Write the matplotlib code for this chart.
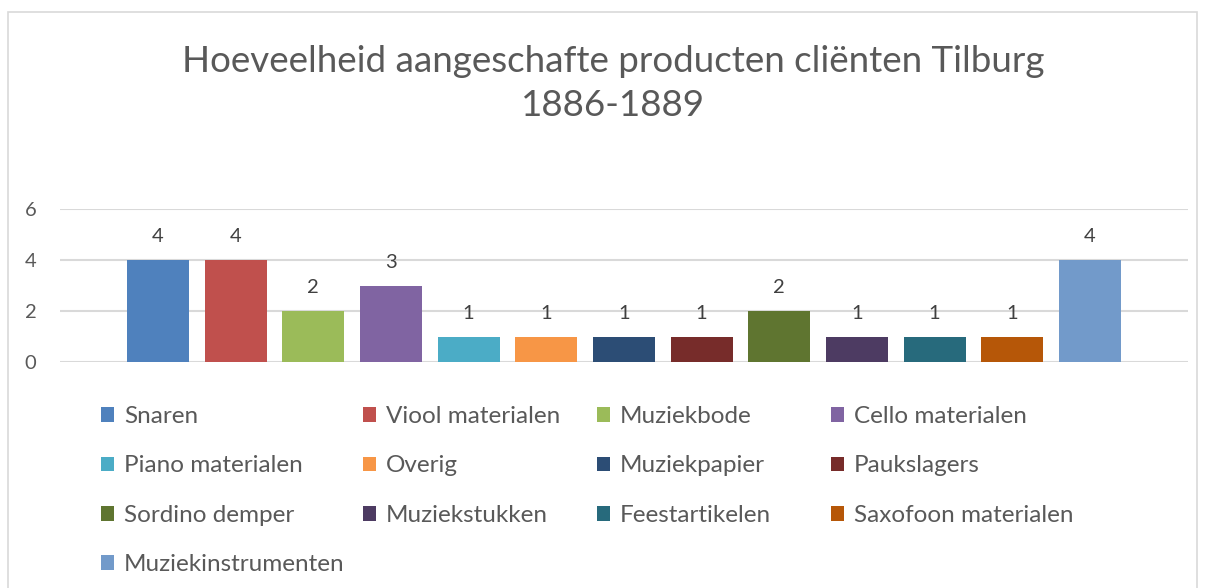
import matplotlib.pyplot as plt
from matplotlib.patches import Patch, Rectangle

categories = ["Snaren", "Viool materialen", "Muziekbode", "Cello materialen",
              "Piano materialen", "Overig", "Muziekpapier", "Paukslagers",
              "Sordino demper", "Muziekstukken", "Feestartikelen",
              "Saxofoon materialen", "Muziekinstrumenten"]
values = [4, 4, 2, 3, 1, 1, 1, 1, 2, 1, 1, 1, 4]
colors = ["#4F81BD", "#C0504D", "#9BBB59", "#8064A2", "#4BACC6", "#F79646",
          "#2C4D75", "#772C2A", "#5F7530", "#4D3B62", "#276A7C", "#B65708",
          "#729ACA"]
yticks = [0, 2, 4, 6]

plt.rcParams['font.family'] = ['Lato', 'DejaVu Sans']

W, H = 1205, 588
fig = plt.figure(figsize=(W / 100, H / 100), dpi=100)

# chart frame
fig.patches.append(Rectangle((8 / W, -0.05), 1189 / W, 1.05 - 12 / H,
                             transform=fig.transFigure, fill=False,
                             edgecolor="#d9d9d9", linewidth=1.2))

ax = fig.add_axes([60 / W, 1 - 362 / H, 1128 / W, 153 / H])
x = list(range(len(values)))
bars = ax.bar(x, values, width=0.8, color=colors, zorder=3)
for xi, v in zip(x, values):
    ax.text(xi, v + 0.58, str(v), ha="center", va="bottom",
            fontsize=14.5, color="#404040")

ax.set_xlim(-1.262, len(values) - 1 + 1.262)
ax.set_ylim(0, 6)
ax.set_yticks(yticks)
ax.set_xticks([])
ax.grid(axis="y", color="#d9d9d9", linewidth=1.5, zorder=0)
for s in ax.spines.values():
    s.set_visible(False)
ax.tick_params(axis="y", length=0, labelsize=14.5, labelcolor="#595959", pad=17)

fig.text(613 / W, 1 - 62 / H, "Hoeveelheid aangeschafte producten cliënten Tilburg",
         ha="center", va="center", fontsize=26.5, color="#595959")
fig.text(613 / W, 1 - 105 / H, "1886-1889",
         ha="center", va="center", fontsize=26.5, color="#595959")

# legend: four columns, row-major order
col_x = [101, 363, 597, 831]
for c in range(4):
    idx = list(range(c, len(categories), 4))
    handles = [Patch(facecolor=colors[i], edgecolor="none") for i in idx]
    labels = [categories[i] for i in idx]
    fig.legend(handles, labels, loc="upper left",
               bbox_to_anchor=(col_x[c] / W, 1 - 406 / H),
               frameon=False, fontsize=17.5, labelcolor="#595959",
               handlelength=0.55, handleheight=0.55, handletextpad=0.4,
               labelspacing=1.17, borderpad=0, borderaxespad=0)

fig.savefig("out.png", dpi=100)
